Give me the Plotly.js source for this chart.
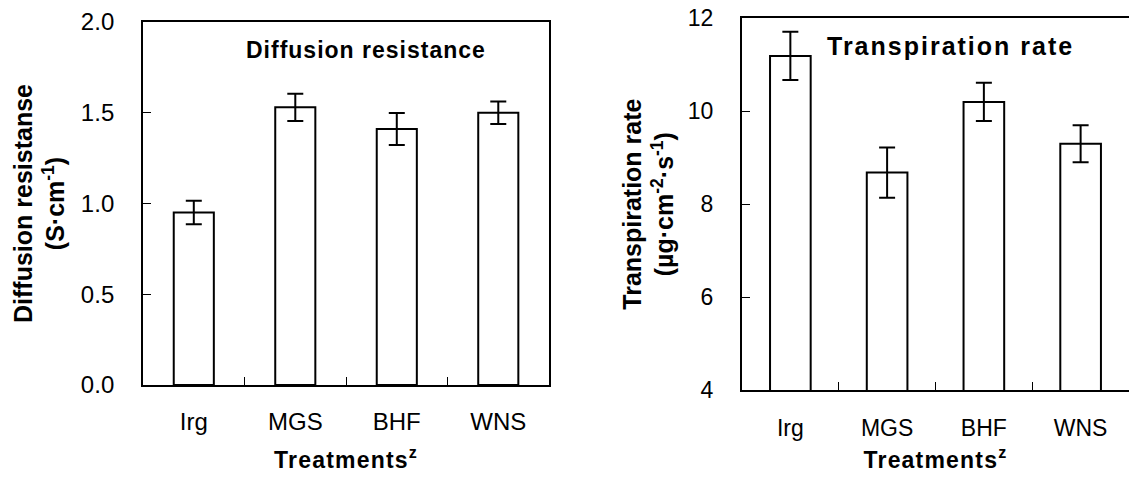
<!DOCTYPE html>
<html>
<head>
<meta charset="utf-8">
<script src="https://cdn.plot.ly/plotly-3.0.1.min.js"></script>
<style>
html,body{margin:0;padding:0;background:#fff;overflow:hidden;}
.xtitle, .x2title { letter-spacing: 1.2px; }
.annotation[data-index="0"] text { letter-spacing: 1px; }
.annotation[data-index="1"] text { letter-spacing: 2px; }
</style>
</head>
<body>
<div id="chart" style="width:1129px;height:480px;"></div>
<script>
const categories = ['Irg', 'MGS', 'BHF', 'WNS'];
const diffusionValues = [0.95, 1.53, 1.41, 1.50];
const diffusionErrors = [0.065, 0.075, 0.088, 0.062];
const transpirationValues = [11.19, 8.68, 10.20, 9.30];
const transpirationErrors = [0.52, 0.54, 0.41, 0.40];
const diffusionTickVals = [0, 0.5, 1.0, 1.5, 2.0];
const diffusionTickText = ['0.0', '0.5', '1.0', '1.5', '2.0'];
const transpirationTickVals = [4, 6, 8, 10, 12];
const transpirationTickText = ['4', '6', '8', '10', '12'];

const FONT = 'Liberation Sans, Arial, sans-serif';
function f(size, bold) {
  const o = {family: FONT, size: size, color: '#000'};
  if (bold) o.weight = 'bold';
  return o;
}

function barTrace(vals, errs, xa, ya, w) {
  return {
    type: 'bar', x: categories, y: vals, xaxis: xa, yaxis: ya, width: w,
    marker: {color: '#ffffff', line: {color: '#000', width: 2}},
    error_y: {type: 'data', array: errs, visible: true, color: '#000', thickness: 2, width: 8},
    hoverinfo: 'skip'
  };
}

const data = [
  barTrace(diffusionValues, diffusionErrors, 'x', 'y', 0.395),
  barTrace(transpirationValues, transpirationErrors, 'x2', 'y2', 0.42)
];

const xCommon = {
  type: 'category', showline: true, linewidth: 2, linecolor: '#000',
  ticks: 'inside', tickson: 'boundaries', ticklen: 8, tickwidth: 1, tickcolor: '#000',
  showgrid: false, zeroline: false, automargin: false,
  range: [-0.5, 3.5], fixedrange: true
};
const yCommon = {
  showline: true, linewidth: 2, linecolor: '#000',
  ticks: 'inside', ticklen: 8, tickwidth: 1, tickcolor: '#000',
  showgrid: false, zeroline: false, automargin: false,
  tickmode: 'array', ticklabelstandoff: 22, fixedrange: true
};

const layout = {
  width: 1129, height: 480,
  margin: {l: 0, r: 0, t: 0, b: 0},
  paper_bgcolor: '#fff', plot_bgcolor: '#fff',
  showlegend: false,
  font: {family: FONT, color: '#000'},
  xaxis: Object.assign({}, xCommon, {
    domain: [0.1267, 0.4863], anchor: 'y', mirror: true,
    tickfont: f(24), ticklabelstandoff: 14,
    title: {text: 'Treatments<sup>z</sup>', font: f(23, true), standoff: 18}
  }),
  yaxis: Object.assign({}, yCommon, {
    domain: [0.1979, 0.9542], anchor: 'x', mirror: true, range: [0, 2],
    tickvals: diffusionTickVals, ticktext: diffusionTickText, tickfont: f(24),
    title: {text: 'Diffusion resistanse<br>(S·cm<sup>-1</sup>)', font: f(25, true), standoff: 9}
  }),
  xaxis2: Object.assign({}, xCommon, {
    domain: [0.6572, 1.0], anchor: 'y2', mirror: true,
    tickfont: f(23), ticklabelstandoff: 16,
    title: {text: 'Treatments<sup>z</sup>', font: f(23, true), standoff: 12}
  }),
  yaxis2: Object.assign({}, yCommon, {
    domain: [0.1875, 0.9619], anchor: 'x2', mirror: false, range: [4, 12],
    tickvals: transpirationTickVals, ticktext: transpirationTickText, tickfont: f(23),
    title: {text: 'Transpiration rate<br>(µg·cm<sup>-2</sup>·s<sup>-1</sup>)', font: f(25, true), standoff: 7}
  }),
  annotations: [
    {text: 'Diffusion resistance', xref: 'paper', yref: 'paper', x: 0.3246, y: 0.8958,
     xanchor: 'center', yanchor: 'middle', showarrow: false, font: f(23, true)},
    {text: 'Transpiration rate', xref: 'paper', yref: 'paper', x: 0.8419, y: 0.9035,
     xanchor: 'center', yanchor: 'middle', showarrow: false, font: f(25, true)}
  ]
};

Plotly.newPlot('chart', data, layout, {staticPlot: true, displayModeBar: false});
</script>
</body>
</html>
